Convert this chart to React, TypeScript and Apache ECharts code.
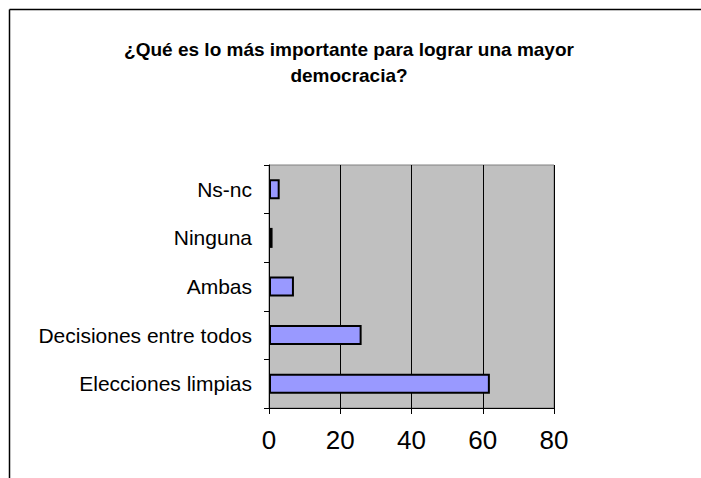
import React, { useEffect, useRef } from "react";
import * as echarts from "echarts";

const categories = ["Elecciones limpias", "Decisiones entre todos", "Ambas", "Ninguna", "Ns-nc"];
const values = [62, 26, 7, 1, 3];
const xTicks = { min: 0, max: 80, interval: 20 };
const titleLines = ["¿Qué es lo más importante para lograr una mayor", "democracia?"];

const FONT = "Arial, 'Liberation Sans', sans-serif";

export default function App() {
  const ref = useRef<HTMLDivElement>(null);
  useEffect(() => {
    if (!ref.current) return;
    const chart = echarts.init(ref.current, null, { renderer: "svg" });
    chart.setOption({
      animation: false,
      backgroundColor: "#ffffff",
      title: {
        text: titleLines.join("\n"),
        left: 344,
        textAlign: "center",
        top: 31,
        textStyle: { fontFamily: FONT, fontSize: 19, fontWeight: "bold", color: "#000", lineHeight: 26 },
      },
      graphic: [
        { type: "line", shape: { x1: 9.5, y1: 9.5, x2: 701, y2: 9.5 }, style: { stroke: "#000", lineWidth: 1.5 } },
        { type: "line", shape: { x1: 9.5, y1: 9.5, x2: 9.5, y2: 478 }, style: { stroke: "#000", lineWidth: 1.5 } },
      ],
      grid: {
        left: 269,
        right: 147,
        top: 165,
        bottom: 70,
        show: true,
        backgroundColor: "#c0c0c0",
        borderColor: "#808080",
        borderWidth: 1,
      },
      xAxis: {
        type: "value",
        min: xTicks.min,
        max: xTicks.max,
        interval: xTicks.interval,
        axisLine: { show: true, lineStyle: { color: "#000", width: 1 } },
        axisTick: { show: true, length: 6, lineStyle: { color: "#000" } },
        axisLabel: { fontFamily: FONT, fontSize: 26, color: "#000", margin: 19 },
        splitLine: { show: true, lineStyle: { color: "#000", width: 1 } },
      },
      yAxis: {
        type: "category",
        data: categories,
        axisLine: { show: true, lineStyle: { color: "#000", width: 1 } },
        axisTick: { show: true, length: 5, lineStyle: { color: "#000" } },
        axisLabel: { fontFamily: FONT, fontSize: 21, color: "#000", margin: 17 },
        splitLine: { show: false },
      },
      series: [
        {
          type: "bar",
          data: values,
          barWidth: 20,
          itemStyle: { color: "#9999ff", borderColor: "#000", borderWidth: 2 },
        },
      ],
    });
    return () => chart.dispose();
  }, []);
  return (
    <div
      ref={ref}
      style={{ position: "fixed", left: 0, top: 0, width: 701, height: 478 }}
    />
  );
}
